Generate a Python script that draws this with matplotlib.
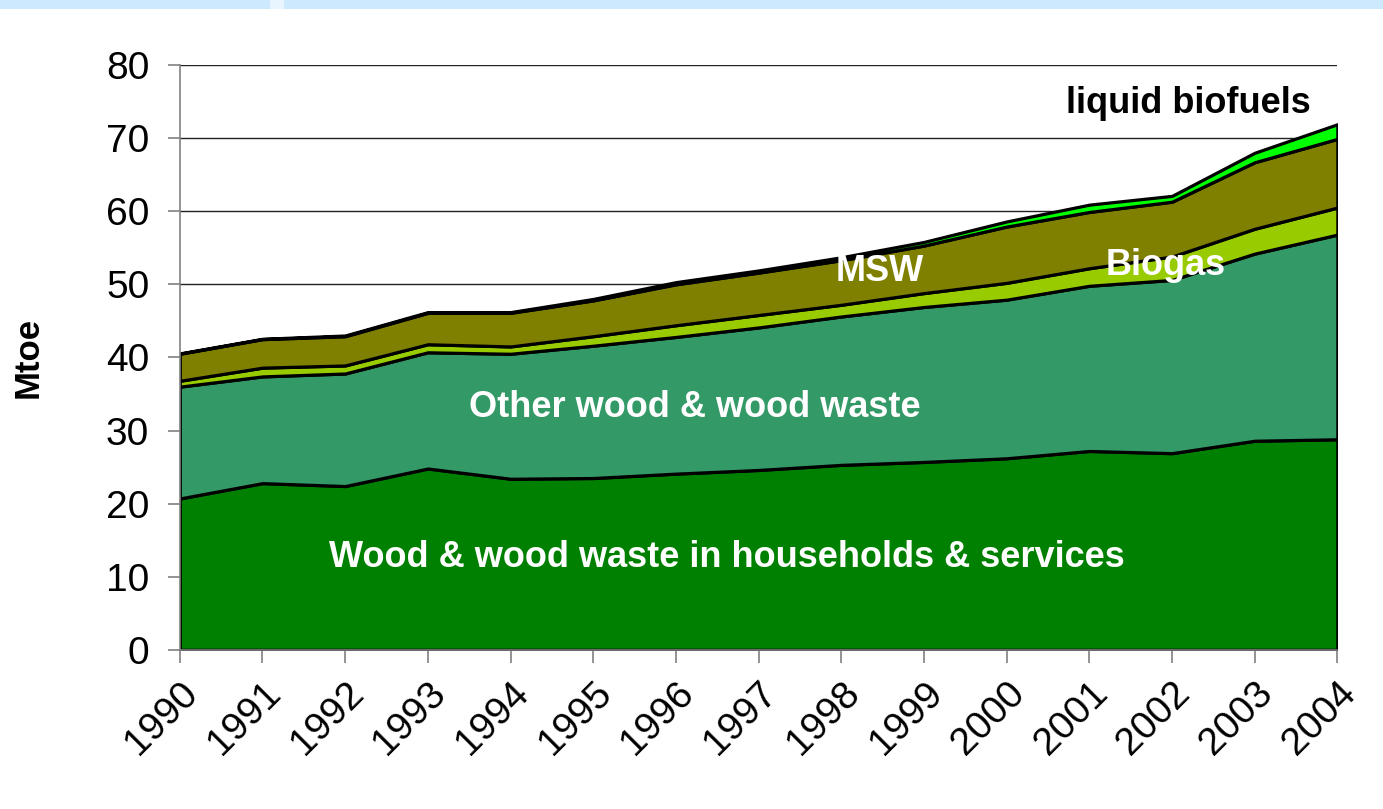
import matplotlib.pyplot as plt
from matplotlib.patches import Rectangle

plt.rcParams['font.family'] = ['Liberation Sans', 'DejaVu Sans']

# Datos (Mtoe)
years = list(range(1990, 2005))
wood_households = [20.7, 22.8, 22.4, 24.8, 23.4, 23.5, 24.1, 24.6, 25.3, 25.7, 26.2, 27.2, 26.9, 28.6, 28.8]
other_wood = [15.3, 14.6, 15.4, 15.9, 17.1, 18.1, 18.7, 19.5, 20.3, 21.2, 21.7, 22.6, 23.7, 25.6, 28.0]
biogas = [0.8, 1.2, 1.1, 1.1, 1.0, 1.3, 1.6, 1.7, 1.6, 1.9, 2.3, 2.4, 3.2, 3.4, 3.7]
msw = [3.7, 3.9, 4.0, 4.3, 4.6, 4.9, 5.6, 5.8, 6.1, 6.5, 7.7, 7.7, 7.5, 9.1, 9.4]
liquid_biofuels = [0.05, 0.05, 0.1, 0.1, 0.1, 0.2, 0.3, 0.3, 0.4, 0.5, 0.7, 1.0, 0.8, 1.3, 2.0]

colors = ['#008000', '#339966', '#99cc00', '#808000', '#00ff00']

fig = plt.figure(figsize=(13.83, 8.09), dpi=100)
ax = fig.add_axes([0.130, 0.1968, 0.837, 0.7228])

# franja azul clara arriba
fig.patches.append(Rectangle((0, 0.989), 1, 0.011, transform=fig.transFigure,
                             facecolor='#cce9fd', edgecolor='none'))
fig.patches.append(Rectangle((270 / 1383, 0.989), 14 / 1383, 0.011, transform=fig.transFigure,
                             facecolor='#e8f5fe', edgecolor='none'))

ax.set_axisbelow(True)
ax.yaxis.grid(True, color='#222222', linewidth=1.0)

polys = ax.stackplot(years, wood_households, other_wood, biogas, msw, liquid_biofuels,
                     colors=colors, edgecolor='black', linewidth=2.3)

ax.set_xlim(1990, 2004)
ax.set_ylim(0, 80)
ax.set_yticks(range(0, 81, 10))
ax.set_xticks(years)
ax.set_xticklabels([str(y) for y in years], rotation=45, ha='right',
                   rotation_mode='anchor')
ax.tick_params(axis='both', color='#808080', length=9, width=1.2)
ax.tick_params(axis='y', labelsize=28, pad=13)
ax.tick_params(axis='x', labelsize=28, pad=9)

for s in ['top', 'right']:
    ax.spines[s].set_visible(False)
for s in ['left', 'bottom']:
    ax.spines[s].set_color('#808080')
    ax.spines[s].set_linewidth(1.2)

ax.set_ylabel('Mtoe', fontsize=25, fontweight='bold')
ax.yaxis.set_label_coords(-0.117, 0.5)

# Etiquetas de las series
ax.text(2002.2, 74.8, 'liquid biofuels', fontsize=26, fontweight='bold',
        color='black', ha='center', va='center')
ax.text(1998.47, 51.7, 'MSW', fontsize=26, fontweight='bold',
        color='white', ha='center', va='center')
ax.text(2001.92, 52.6, 'Biogas', fontsize=26, fontweight='bold',
        color='white', ha='center', va='center')
ax.text(1996.23, 33.1, 'Other wood & wood waste', fontsize=26, fontweight='bold',
        color='white', ha='center', va='center')
ax.text(1996.62, 12.65, 'Wood & wood waste in households & services', fontsize=26,
        fontweight='bold', color='white', ha='center', va='center')

fig.savefig('out.png', dpi=100)
